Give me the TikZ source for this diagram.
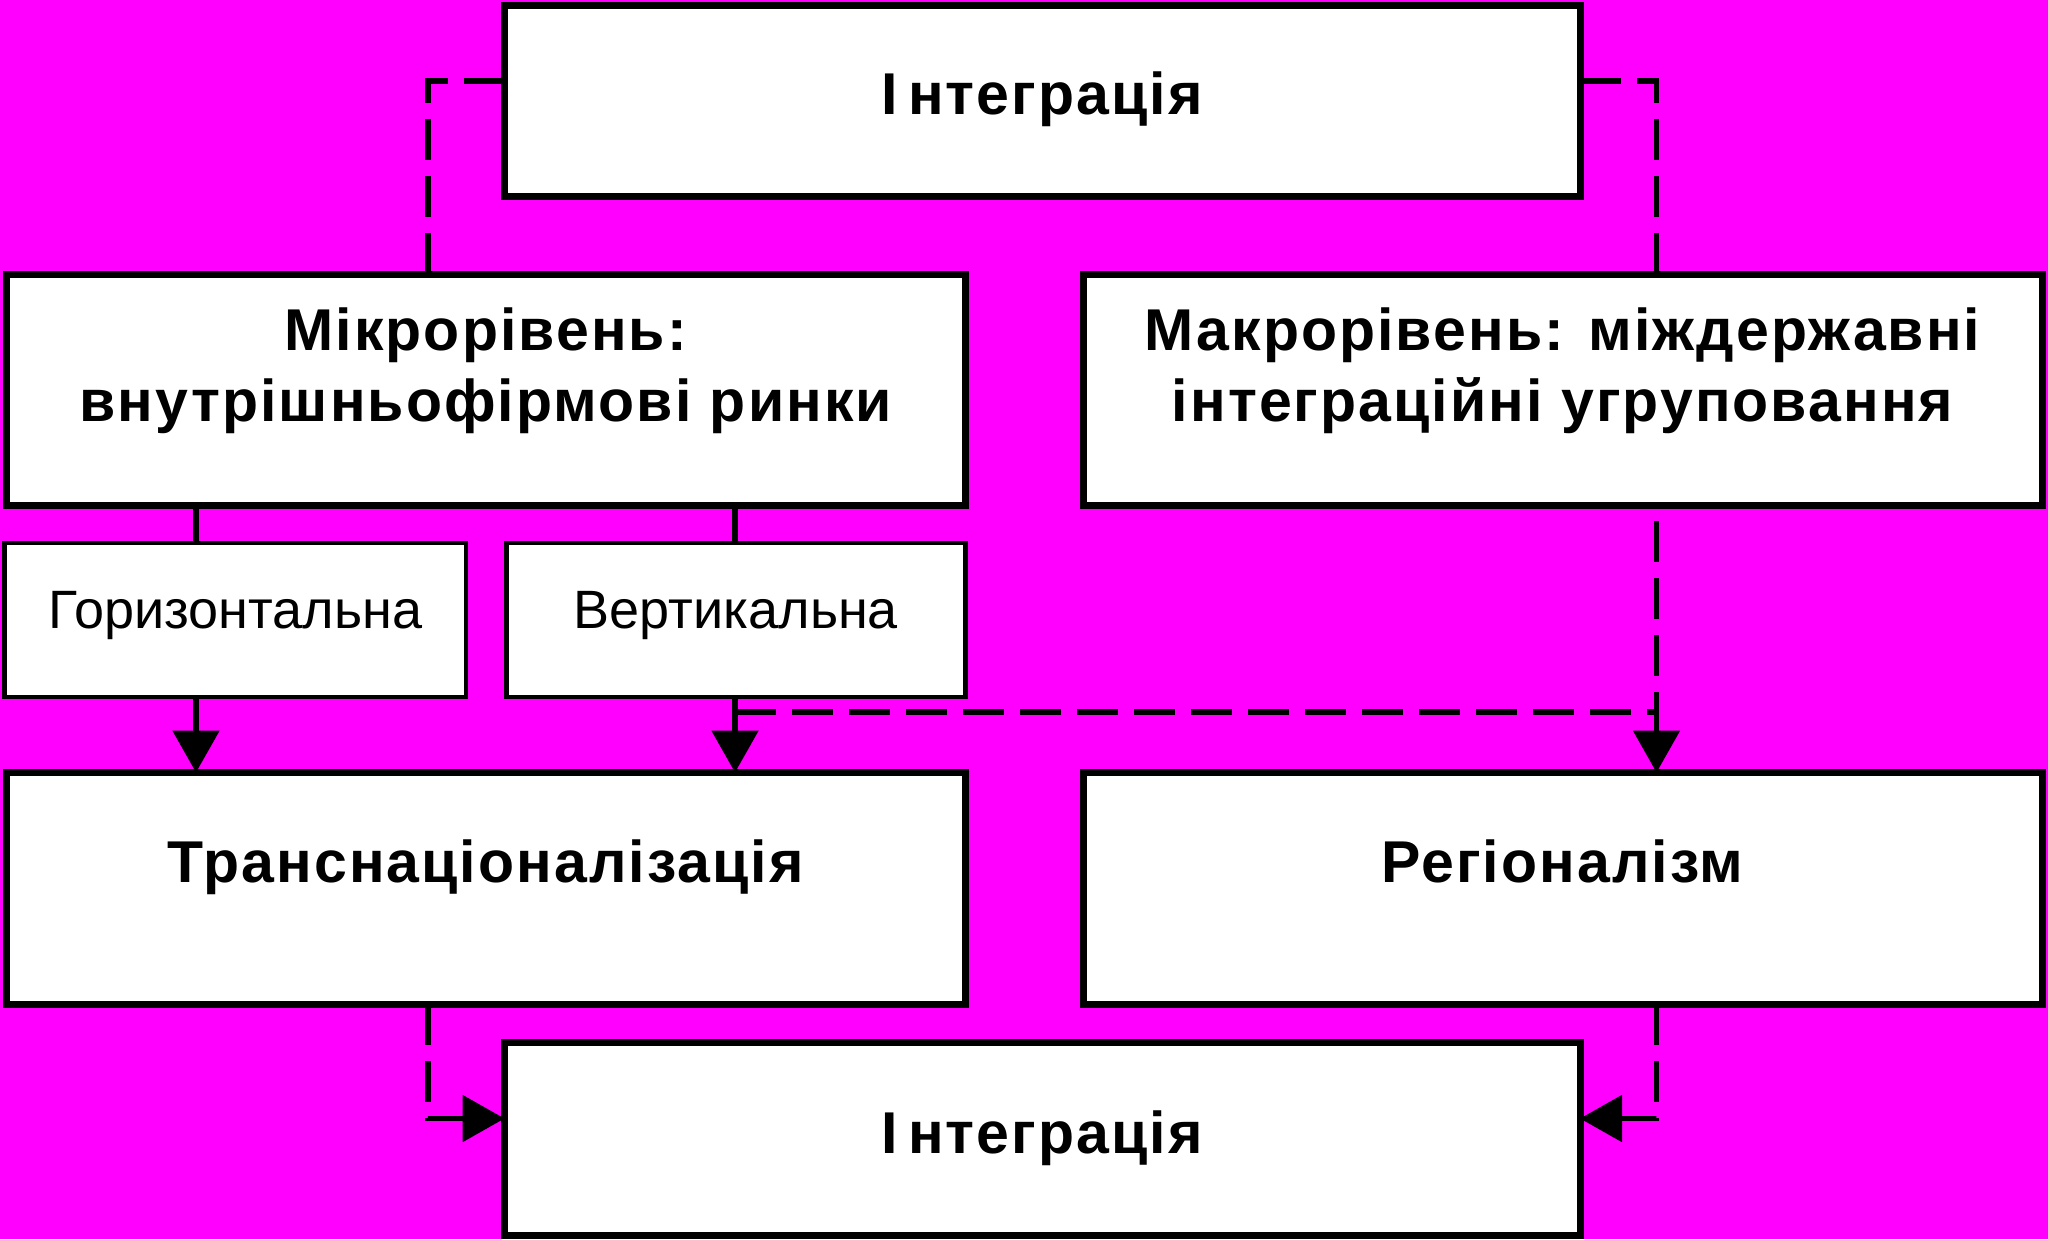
\documentclass[tikz,border=0pt]{standalone}
\usepackage{fontspec}
\setmainfont{Liberation Sans}
\newfontfamily\wideb{Liberation Sans}[LetterSpace=3.5]
\usetikzlibrary{arrows.meta,calc}
\definecolor{bg}{RGB}{255,0,255}
\tikzset{
  bigbox/.style={draw=black, fill=white, line width=3.5pt, inner sep=0pt, outer sep=0pt},
  smallbox/.style={draw=black, fill=white, line width=2.4pt, inner sep=0pt, outer sep=0pt},
  btext/.style={inner sep=0pt, anchor=base, font=\wideb\bfseries\fontsize{29.5pt}{35pt}\selectfont},
  rtext/.style={inner sep=0pt, anchor=base, font=\fontsize{27pt}{32pt}\selectfont},
  sol/.style={line width=2.8pt},
  dsh/.style={line width=2.7pt, dash pattern=on 20.5pt off 8pt},
  arr/.style={-{Triangle[length=21pt,width=23pt]}}
}
\begin{document}
\begin{tikzpicture}[x=0.5pt,y=-0.5pt]
\useasboundingbox[fill=bg] (0,0) rectangle (2048,1239);
% boxes
\node[bigbox, minimum width=537.75pt, minimum height=95.75pt] (top) at (1042.25,100.75) {};
\node[bigbox, minimum width=479.25pt, minimum height=115.5pt] (micro) at (485.75,389.5) {};
\node[bigbox, minimum width=479.5pt, minimum height=115.5pt] (macro) at (1562.5,389.5) {};
\node[smallbox, minimum width=230.65pt, minimum height=77pt] (horiz) at (235.35,620) {};
\node[smallbox, minimum width=229.5pt, minimum height=77pt] (vert) at (736,620) {};
\node[bigbox, minimum width=479.25pt, minimum height=115.75pt] (trans) at (485.75,888.25) {};
\node[bigbox, minimum width=479.5pt, minimum height=115.75pt] (reg) at (1562.5,888.25) {};
\node[bigbox, minimum width=537.75pt, minimum height=96.75pt] (bottom) at (1042.25,1138.75) {};
% texts
\node[btext] (ttop) at (1042.25,114) {І\kern5pt нтеграція};
\node[btext] (tmicroa) at (485.75,350) {Мікрорівень:};
\node[btext] (tmicrob) at (485.75,421) {внутрішньофірмові ринки};
\node[btext] (tmacroa) at (1562.5,350) {Макрорівень: міждержавні};
\node[btext] (tmacrob) at (1562.5,421) {інтеграційні угруповання};
\node[rtext] (thoriz) at (235.35,628) {Горизонтальна};
\node[rtext] (tvert) at (736,628) {Вертикальна};
\node[btext] (ttrans) at (485.75,882.5) {Транснаціоналізація};
\node[btext] (treg) at (1562.5,882.5) {Регіоналізм};
\node[btext] (tbottom) at (1042.25,1153) {І\kern5pt нтеграція};
% connectors
\draw[dsh] ($(top.west)+(0,-19.75)$) -| ($(micro.north west)+(421.5,0)$);
\draw[dsh] ($(top.east)+(0,-19.75)$) -| ($(macro.north west)+(573.5,0)$);
\draw[sol] ($(micro.south west)+(189.5,0)$) coordinate (m1) -- (m1 |- horiz.north);
\draw[sol] ($(micro.south west)+(728.5,0)$) coordinate (m2) -- (m2 |- vert.north);
\draw[sol,arr] ($(horiz.south west)+(191.3,0)$) coordinate (h1) -- (h1 |- trans.north);
\draw[sol,arr] ($(vert.south west)+(228.5,0)$) coordinate (v1) -- (v1 |- trans.north);
\draw[dsh,arr,dash phase=20.5pt] ($(macro.south west)+(573.5,0)$) coordinate (r1) -- (r1 |- reg.north);
\draw[dsh] ($(vert.south west)+(228.5,15)$) -- ($(reg.north west)+(573.5,-60.5)$);
\draw[dsh,arr] ($(trans.south west)+(421.5,0)$) |- ($(bottom.west)+(0,-20.25)$);
\draw[dsh,arr] ($(reg.south west)+(573.5,0)$) |- ($(bottom.east)+(0,-20.25)$);
\end{tikzpicture}
\end{document}
